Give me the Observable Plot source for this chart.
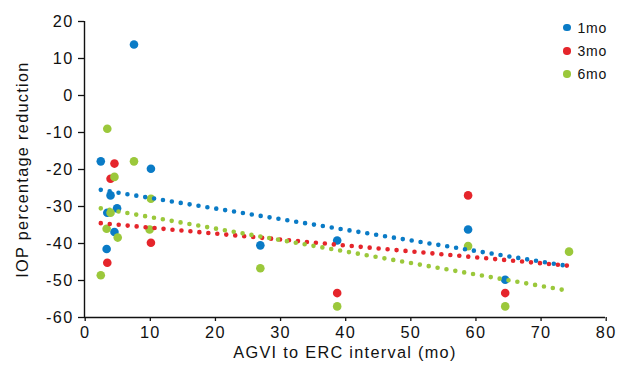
<!DOCTYPE html>
<html>
<head>
<meta charset="utf-8">
<script src="https://cdn.jsdelivr.net/npm/d3@7"></script>
<script src="https://cdn.jsdelivr.net/npm/@observablehq/plot@0.6"></script>
<style>
  html, body { margin: 0; padding: 0; background: #fff; }
  #wrap { position: relative; width: 617px; height: 365px; font-family: "Liberation Sans", Arial, sans-serif; }
  #wrap svg text { font-family: "Liberation Sans", Arial, sans-serif; letter-spacing: 1.3px; }
  #legend { position: absolute; left: 563px; top: 16px; font-size: 14px; letter-spacing: 0.8px; color: #111; }
  .row { display: flex; align-items: center; height: 23.3px; }
  .sw { width: 7.5px; height: 7.5px; border-radius: 50%; margin-right: 7px; }
</style>
</head>
<body>
<div id="wrap"><div id="legend"></div></div>
<script>
const series = ["1mo", "3mo", "6mo"];
const colors = ["#0a7bc6", "#e5252b", "#9bc83b"];

const oneMoX = [2.5, 3.4, 3.5, 4.0, 4.6, 5.0, 7.6, 10.2, 27.0, 38.8, 58.9, 64.6];
const oneMoY = [-17.8, -41.5, -31.7, -27.0, -36.9, -30.5, 13.8, -19.8, -40.5, -39.2, -36.2, -49.8];

const threeMoX = [3.5, 4.0, 4.6, 10.2, 38.8, 58.9, 64.6];
const threeMoY = [-45.2, -22.5, -18.4, -39.8, -53.4, -27.0, -53.4];

const sixMoX = [2.5, 3.4, 3.5, 4.0, 4.6, 5.1, 7.6, 10.0, 10.2, 27.0, 38.8, 58.9, 64.6, 74.4];
const sixMoY = [-48.6, -36.0, -9.0, -31.7, -22.0, -38.4, -17.8, -36.2, -27.9, -46.7, -57.0, -40.7, -57.0, -42.2];

// linear trend lines (start / end)
const trendX0 = [2.5, 2.5, 2.5];
const trendY0 = [-25.5, -34.5, -30.5];
const trendX1 = [73.6, 74.2, 73.4];
const trendY1 = [-45.9, -46.0, -52.5];

const xTicks = [0, 10, 20, 30, 40, 50, 60, 70, 80];
const yTicks = [-60, -50, -40, -30, -20, -10, 0, 10, 20];
const xLabel = "AGVI to ERC interval (mo)";
const yLabel = "IOP percentage reduction";

const seriesX = [oneMoX, threeMoX, sixMoX];
const seriesY = [oneMoY, threeMoY, sixMoY];
const points = [];
series.forEach((s, i) => seriesX[i].forEach((x, j) => points.push({series: s, x, y: seriesY[i][j]})));
const trend = [];
series.forEach((s, i) => {
  trend.push({series: s, x: trendX0[i], y: trendY0[i]});
  trend.push({series: s, x: trendX1[i], y: trendY1[i]});
});

const fontSize = 16.3;
const fmt = d => String(d);
const chart = Plot.plot({
  width: 617,
  height: 365,
  marginLeft: 84,
  marginRight: 12,
  marginTop: 21,
  marginBottom: 48,
  style: {fontFamily: "'Liberation Sans', Arial, sans-serif", fontSize: fontSize + "px", color: "#111", background: "#fff"},
  x: {domain: [0, 80]},
  y: {domain: [-60, 20]},
  color: {domain: series, range: colors},
  marks: [
    Plot.axisX({ticks: xTicks, tickFormat: fmt, tickSize: 4, tickPadding: 5, fontSize, label: null, strokeWidth: 1.3, dx: 0.7}),
    Plot.axisY({ticks: yTicks, tickFormat: fmt, tickSize: 6, tickPadding: 5, fontSize, label: null, strokeWidth: 1.3}),
    Plot.ruleX([0], {stroke: "#111", strokeWidth: 1.4}),
    Plot.ruleY([-60], {stroke: "#111", strokeWidth: 1.4}),
    Plot.dot(points, {x: "x", y: "y", fill: "series", r: 4.3}),
    Plot.line(trend, {x: "x", y: "y", z: "series", stroke: "series", strokeWidth: 4.6, strokeDasharray: "0 9", strokeLinecap: "round"}),
    Plot.text([xLabel], {frameAnchor: "bottom", lineAnchor: "middle", dy: 35, fontSize, text: d => d}),
    Plot.text([yLabel], {frameAnchor: "left", textAnchor: "middle", dx: -62, rotate: -90, fontSize, text: d => d})
  ]
});
const wrap = document.getElementById("wrap");
wrap.insertBefore(chart, wrap.firstChild);

const legend = document.getElementById("legend");
series.forEach((s, i) => {
  const row = document.createElement("div");
  row.className = "row";
  const sw = document.createElement("span");
  sw.className = "sw";
  sw.style.background = colors[i];
  row.appendChild(sw);
  row.appendChild(document.createTextNode(s));
  legend.appendChild(row);
});
</script>
</body>
</html>
